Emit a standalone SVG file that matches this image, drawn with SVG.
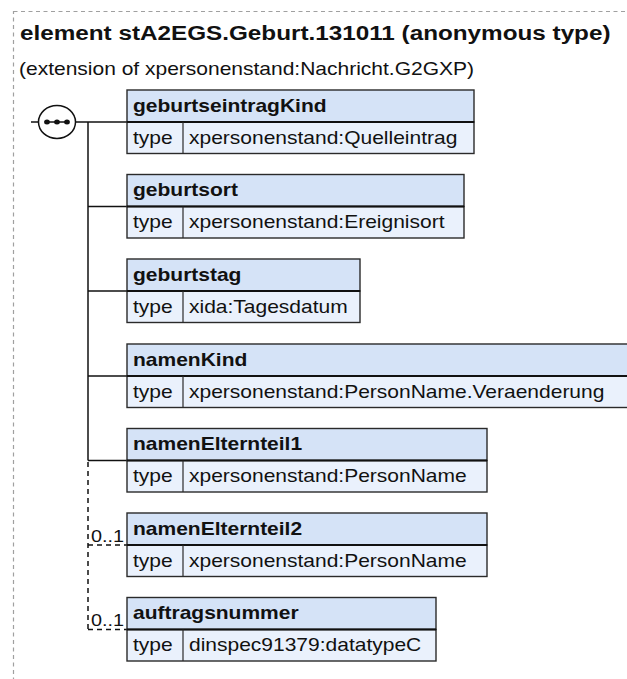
<svg xmlns="http://www.w3.org/2000/svg" width="627" height="679" viewBox="0 0 627 679">
<style>
.frame{fill:none;stroke:#a0a0a0;stroke-width:1.2;stroke-dasharray:4 3.5}
.hd{fill:#d5e3f7;stroke:#2a2a2a;stroke-width:1.4}
.rw{fill:#eaf1fc;stroke:#2a2a2a;stroke-width:1.4}
.sep{stroke:#111;stroke-width:2}
.div{stroke:#2a2a2a;stroke-width:1.2}
.t{font-family:"Liberation Sans",Arial,sans-serif;fill:#111}
.h{font-size:18px;font-weight:bold}
.r{font-size:18px}
.ttl{font-size:20.8px;font-weight:bold}
.sub{font-size:18px}
.occ{font-size:17px}
.c{stroke:#111;stroke-width:1.5;fill:none}
.cd{stroke:#111;stroke-width:1.5;fill:none;stroke-dasharray:5 4}
</style>
<rect class="frame" x="13.5" y="11.5" width="700" height="700"/>
<g id="title">
<text class="t ttl" x="17.14" y="40" transform="scale(1.1667 1)">element stA2EGS.Geburt.131011 (anonymous type)</text>
<text class="t sub" x="16.29" y="75" transform="scale(1.1667 1)">(extension of xpersonenstand:Nachricht.G2GXP)</text>
</g>
<g id="connectors">
<line class="c" x1="31" y1="122" x2="38.5" y2="122"/>
<ellipse cx="57" cy="122" rx="18.5" ry="16.5" fill="#fff" stroke="#111" stroke-width="1.5"/>
<line class="c" x1="46" y1="122" x2="68" y2="122"/>
<ellipse cx="47" cy="122" rx="2.9" ry="2.5" fill="#111"/>
<ellipse cx="57" cy="122" rx="2.9" ry="2.5" fill="#111"/>
<ellipse cx="67" cy="122" rx="2.9" ry="2.5" fill="#111"/>
<line class="c" x1="75.5" y1="122" x2="127" y2="122"/>
<line class="c" x1="88" y1="122" x2="88" y2="460.5"/>
<line class="c" x1="88" y1="206.5" x2="127" y2="206.5"/>
<line class="c" x1="88" y1="291" x2="127" y2="291"/>
<line class="c" x1="88" y1="376" x2="127" y2="376"/>
<line class="c" x1="88" y1="460.5" x2="127" y2="460.5"/>
<line class="cd" x1="88" y1="462" x2="88" y2="629.5"/>
<line class="cd" x1="88" y1="545" x2="127" y2="545"/>
<line class="cd" x1="88" y1="629.5" x2="127" y2="629.5"/>
<text class="t occ" x="78" y="542" transform="scale(1.1667 1)">0..1</text>
<text class="t occ" x="78" y="626.5" transform="scale(1.1667 1)">0..1</text>
</g>
<g id="geburtseintragKind">
<rect class="hd" x="127" y="90" width="347" height="32"/>
<rect class="rw" x="127" y="122" width="347" height="31.5"/>
<line class="sep" x1="127" y1="122" x2="474" y2="122"/>
<line class="div" x1="183" y1="122" x2="183" y2="153.5"/>
<text class="t h" x="114" y="112" transform="scale(1.1667 1)">geburtseintragKind</text>
<text class="t r" x="114" y="144" transform="scale(1.1667 1)">type</text>
<text class="t r" x="162" y="144" transform="scale(1.1667 1)">xpersonenstand:Quelleintrag</text>
</g>
<g id="geburtsort">
<rect class="hd" x="127" y="174.5" width="337" height="32"/>
<rect class="rw" x="127" y="206.5" width="337" height="31.5"/>
<line class="sep" x1="127" y1="206.5" x2="464" y2="206.5"/>
<line class="div" x1="183" y1="206.5" x2="183" y2="238"/>
<text class="t h" x="114" y="196.5" transform="scale(1.1667 1)">geburtsort</text>
<text class="t r" x="114" y="228.5" transform="scale(1.1667 1)">type</text>
<text class="t r" x="162" y="228.5" transform="scale(1.1667 1)">xpersonenstand:Ereignisort</text>
</g>
<g id="geburtstag">
<rect class="hd" x="127" y="259" width="233" height="32"/>
<rect class="rw" x="127" y="291" width="233" height="31.5"/>
<line class="sep" x1="127" y1="291" x2="360" y2="291"/>
<line class="div" x1="183" y1="291" x2="183" y2="322.5"/>
<text class="t h" x="114" y="281" transform="scale(1.1667 1)">geburtstag</text>
<text class="t r" x="114" y="313" transform="scale(1.1667 1)">type</text>
<text class="t r" x="162" y="313" transform="scale(1.1667 1)">xida:Tagesdatum</text>
</g>
<g id="namenKind">
<rect class="hd" x="127" y="344" width="520" height="32"/>
<rect class="rw" x="127" y="376" width="520" height="31.5"/>
<line class="sep" x1="127" y1="376" x2="647" y2="376"/>
<line class="div" x1="183" y1="376" x2="183" y2="407.5"/>
<text class="t h" x="114" y="366" transform="scale(1.1667 1)">namenKind</text>
<text class="t r" x="114" y="398" transform="scale(1.1667 1)">type</text>
<text class="t r" x="162" y="398" transform="scale(1.1667 1)">xpersonenstand:PersonName.Veraenderung</text>
</g>
<g id="namenElternteil1">
<rect class="hd" x="127" y="428.5" width="360" height="32"/>
<rect class="rw" x="127" y="460.5" width="360" height="31.5"/>
<line class="sep" x1="127" y1="460.5" x2="487" y2="460.5"/>
<line class="div" x1="183" y1="460.5" x2="183" y2="492"/>
<text class="t h" x="114" y="450.5" transform="scale(1.1667 1)">namenElternteil1</text>
<text class="t r" x="114" y="482.5" transform="scale(1.1667 1)">type</text>
<text class="t r" x="162" y="482.5" transform="scale(1.1667 1)">xpersonenstand:PersonName</text>
</g>
<g id="namenElternteil2">
<rect class="hd" x="127" y="513" width="360" height="32"/>
<rect class="rw" x="127" y="545" width="360" height="31.5"/>
<line class="sep" x1="127" y1="545" x2="487" y2="545"/>
<line class="div" x1="183" y1="545" x2="183" y2="576.5"/>
<text class="t h" x="114" y="535" transform="scale(1.1667 1)">namenElternteil2</text>
<text class="t r" x="114" y="567" transform="scale(1.1667 1)">type</text>
<text class="t r" x="162" y="567" transform="scale(1.1667 1)">xpersonenstand:PersonName</text>
</g>
<g id="auftragsnummer">
<rect class="hd" x="127" y="597.5" width="309" height="32"/>
<rect class="rw" x="127" y="629.5" width="309" height="31.5"/>
<line class="sep" x1="127" y1="629.5" x2="436" y2="629.5"/>
<line class="div" x1="183" y1="629.5" x2="183" y2="661"/>
<text class="t h" x="114" y="619.5" transform="scale(1.1667 1)">auftragsnummer</text>
<text class="t r" x="114" y="651.5" transform="scale(1.1667 1)">type</text>
<text class="t r" x="162" y="651.5" transform="scale(1.1667 1)">dinspec91379:datatypeC</text>
</g>
</svg>
